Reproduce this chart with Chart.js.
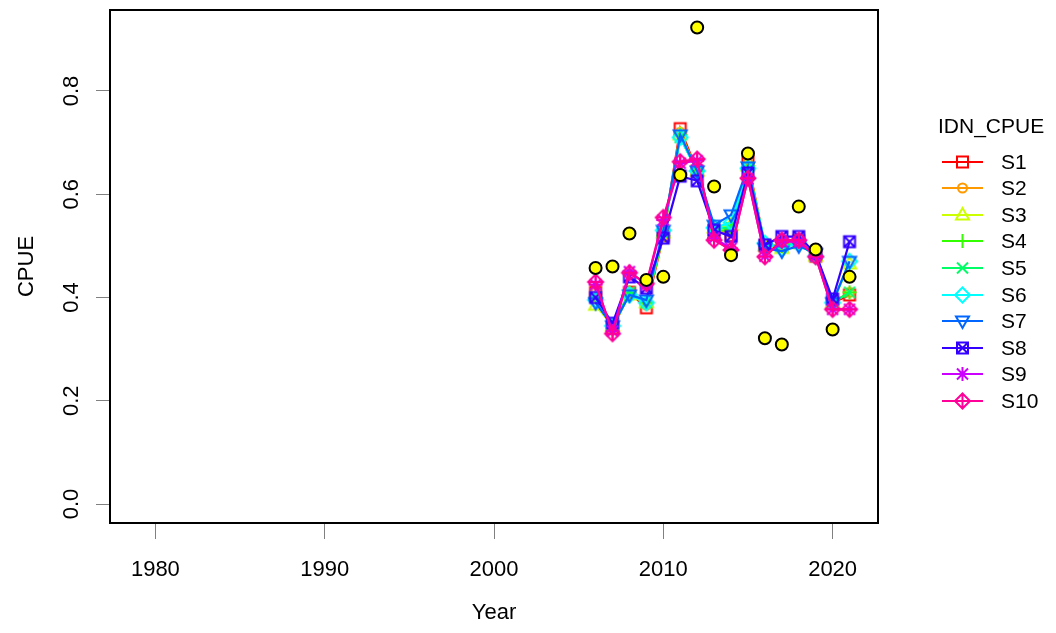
<!DOCTYPE html>
<html>
<head>
<meta charset="utf-8">
<script src="https://cdn.jsdelivr.net/npm/chart.js@4.4.1/dist/chart.umd.min.js"></script>
<style>
  body { margin: 0; background: #fff; font-family: "Liberation Sans", Arial, sans-serif; }
  #wrap { position: relative; width: 1056px; height: 633px; }
  #legend { position: absolute; left: 0; top: 0; width: 1056px; height: 633px; pointer-events: none; color: #000; }
  .lg-title { position: absolute; left: 938px; top: 113px; font-size: 21px; line-height: 26px; }
  .lg-row { position: absolute; left: 941px; height: 26px; display: flex; align-items: center; font-size: 21px; }
  .lg-row canvas { display: block; margin-right: 16px; }
</style>
</head>
<body>
<div id="wrap">
  <canvas id="cpueChart" width="1056" height="633"></canvas>
  <div id="legend"></div>
</div>
<script>
// years with index values
const years = [2006, 2007, 2008, 2009, 2010, 2011, 2012, 2013, 2014, 2015, 2016, 2017, 2018, 2019, 2020, 2021];

// observed CPUE (yellow dots)
const observed = [0.457, 0.460, 0.524, 0.434, 0.440, 0.637, 0.923, 0.615, 0.482, 0.679, 0.321, 0.309, 0.576, 0.493, 0.338, 0.440];

// fitted CPUE per scenario
const s1  = [0.410, 0.340, 0.410, 0.380, 0.520, 0.727, 0.645, 0.530, 0.520, 0.663, 0.500, 0.500, 0.510, 0.480, 0.390, 0.405];
const s2  = [0.410, 0.340, 0.410, 0.385, 0.520, 0.720, 0.645, 0.530, 0.525, 0.660, 0.500, 0.500, 0.510, 0.480, 0.390, 0.410];
const s3  = [0.385, 0.345, 0.405, 0.390, 0.525, 0.715, 0.645, 0.535, 0.540, 0.655, 0.500, 0.495, 0.505, 0.480, 0.390, 0.465];
const s4  = [0.400, 0.340, 0.410, 0.390, 0.520, 0.715, 0.645, 0.530, 0.530, 0.655, 0.500, 0.500, 0.505, 0.480, 0.390, 0.410];
const s5  = [0.400, 0.345, 0.410, 0.390, 0.525, 0.710, 0.645, 0.535, 0.535, 0.650, 0.500, 0.500, 0.505, 0.480, 0.390, 0.410];
const s6  = [0.395, 0.345, 0.405, 0.390, 0.530, 0.710, 0.645, 0.535, 0.545, 0.650, 0.505, 0.495, 0.505, 0.480, 0.390, 0.470];
const s7  = [0.390, 0.345, 0.405, 0.395, 0.530, 0.715, 0.645, 0.540, 0.560, 0.653, 0.495, 0.490, 0.500, 0.485, 0.390, 0.470];
const s8  = [0.400, 0.350, 0.440, 0.418, 0.515, 0.635, 0.626, 0.530, 0.518, 0.641, 0.502, 0.518, 0.518, 0.485, 0.397, 0.508];
const s9  = [0.425, 0.335, 0.450, 0.425, 0.550, 0.660, 0.665, 0.515, 0.495, 0.630, 0.480, 0.508, 0.508, 0.480, 0.377, 0.377];
const s10 = [0.430, 0.330, 0.448, 0.427, 0.555, 0.663, 0.668, 0.511, 0.492, 0.631, 0.479, 0.511, 0.511, 0.479, 0.377, 0.377];

const seriesNames = ['S1', 'S2', 'S3', 'S4', 'S5', 'S6', 'S7', 'S8', 'S9', 'S10'];
const seriesValues = [s1, s2, s3, s4, s5, s6, s7, s8, s9, s10];
const seriesColors = ['#FF0000', '#FF9900', '#CCFF00', '#33FF00', '#00FF66', '#00FFFF', '#0066FF', '#3300FF', '#CC00FF', '#FF0099'];
const seriesShapes = ['square', 'circle', 'triangle', 'plus', 'cross', 'diamond', 'triangleDown', 'squareX', 'asterisk', 'diamondPlus'];

const xTicks = [1980, 1990, 2000, 2010, 2020];
const yTicks = [0.0, 0.2, 0.4, 0.6, 0.8];

const FONT = '"Liberation Sans", Arial, sans-serif';

// R-like plotting symbols
function drawMarker(ctx, shape, cx, cy, color) {
    ctx.save();
    ctx.strokeStyle = color;
    ctx.lineWidth = 2;
    ctx.beginPath();
    const r = 5.5;
    const d = 7.5;
    switch (shape) {
        case 'square':
            ctx.rect(cx - r, cy - r, 2 * r, 2 * r);
            break;
        case 'circle':
            ctx.arc(cx, cy, 4.5, 0, Math.PI * 2);
            break;
        case 'triangle':
            ctx.moveTo(cx, cy - 7); ctx.lineTo(cx + 6.5, cy + 4.5); ctx.lineTo(cx - 6.5, cy + 4.5); ctx.closePath();
            break;
        case 'triangleDown':
            ctx.moveTo(cx, cy + 7); ctx.lineTo(cx + 6.5, cy - 4.5); ctx.lineTo(cx - 6.5, cy - 4.5); ctx.closePath();
            break;
        case 'plus':
            ctx.moveTo(cx - 7, cy); ctx.lineTo(cx + 7, cy);
            ctx.moveTo(cx, cy - 7); ctx.lineTo(cx, cy + 7);
            break;
        case 'cross':
            ctx.moveTo(cx - r, cy - r); ctx.lineTo(cx + r, cy + r);
            ctx.moveTo(cx - r, cy + r); ctx.lineTo(cx + r, cy - r);
            break;
        case 'diamond':
            ctx.moveTo(cx, cy - d); ctx.lineTo(cx + d, cy); ctx.lineTo(cx, cy + d); ctx.lineTo(cx - d, cy); ctx.closePath();
            break;
        case 'squareX':
            ctx.rect(cx - r, cy - r, 2 * r, 2 * r);
            ctx.moveTo(cx - r, cy - r); ctx.lineTo(cx + r, cy + r);
            ctx.moveTo(cx - r, cy + r); ctx.lineTo(cx + r, cy - r);
            break;
        case 'asterisk':
            ctx.moveTo(cx - 7, cy); ctx.lineTo(cx + 7, cy);
            ctx.moveTo(cx, cy - 7); ctx.lineTo(cx, cy + 7);
            ctx.moveTo(cx - r, cy - r); ctx.lineTo(cx + r, cy + r);
            ctx.moveTo(cx - r, cy + r); ctx.lineTo(cx + r, cy - r);
            break;
        case 'diamondPlus':
            ctx.moveTo(cx, cy - d); ctx.lineTo(cx + d, cy); ctx.lineTo(cx, cy + d); ctx.lineTo(cx - d, cy); ctx.closePath();
            ctx.moveTo(cx - d, cy); ctx.lineTo(cx + d, cy);
            ctx.moveTo(cx, cy - d); ctx.lineTo(cx, cy + d);
            break;
    }
    ctx.stroke();
    ctx.restore();
}

function makeMarker(shape, color) {
    const c = document.createElement('canvas');
    c.width = 20; c.height = 20;
    drawMarker(c.getContext('2d'), shape, 10, 10, color);
    return c;
}

function makeLegendIcon(shape, color) {
    const c = document.createElement('canvas');
    c.width = 44; c.height = 22;
    const ctx = c.getContext('2d');
    ctx.strokeStyle = color;
    ctx.lineWidth = 2.2;
    ctx.beginPath();
    ctx.moveTo(1, 11); ctx.lineTo(42, 11);
    ctx.stroke();
    drawMarker(ctx, shape, 21.5, 11, color);
    return c;
}

const datasets = [{
    label: 'observed',
    data: years.map((y, i) => ({ x: y, y: observed[i] })),
    showLine: false,
    pointStyle: 'circle',
    pointRadius: 6,
    pointBorderWidth: 2,
    pointBackgroundColor: '#FFFF00',
    pointBorderColor: '#000000',
    order: 0
}];

seriesValues.forEach((vals, k) => {
    datasets.push({
        label: seriesNames[k],
        data: years.map((y, i) => ({ x: y, y: vals[i] })),
        borderColor: seriesColors[k],
        borderWidth: 2.2,
        tension: 0,
        fill: false,
        pointStyle: makeMarker(seriesShapes[k], seriesColors[k]),
        pointRadius: 6,
        order: 10 - k   // later scenarios drawn on top
    });
});

// box, rotated y labels and axis titles in base-graphics style
const frameAndLabels = {
    id: 'frameAndLabels',
    afterDraw(chart) {
        const { ctx, chartArea, scales } = chart;
        ctx.save();
        ctx.strokeStyle = '#000';
        ctx.lineWidth = 2;
        ctx.strokeRect(chartArea.left, chartArea.top, chartArea.right - chartArea.left, chartArea.bottom - chartArea.top);

        ctx.fillStyle = '#000';
        ctx.font = '22px ' + FONT;
        ctx.textAlign = 'center';
        ctx.textBaseline = 'middle';
        yTicks.forEach(v => {
            const py = scales.y.getPixelForValue(v);
            ctx.save();
            ctx.translate(72, py);
            ctx.rotate(-Math.PI / 2);
            ctx.fillText(v.toFixed(1), 0, 0);
            ctx.restore();
        });

        ctx.fillText('Year', (chartArea.left + chartArea.right) / 2, 613);
        ctx.save();
        ctx.translate(27, (chartArea.top + chartArea.bottom) / 2);
        ctx.rotate(-Math.PI / 2);
        ctx.fillText('CPUE', 0, 0);
        ctx.restore();
        ctx.restore();
    }
};

const ctx = document.getElementById('cpueChart').getContext('2d');
window.cpueChartInstance = new Chart(ctx, {
    type: 'line',
    data: { datasets: datasets },
    options: {
        responsive: false,
        animation: false,
        layout: { padding: { top: 10, right: 178, bottom: 0, left: 0 } },
        scales: {
            x: {
                type: 'linear',
                min: 1977.32,
                max: 2022.68,
                afterBuildTicks: (scale) => { scale.ticks = xTicks.map(v => ({ value: v })); },
                afterFit: (scale) => { scale.height = 110; },
                ticks: {
                    color: '#000',
                    font: { family: FONT, size: 22 },
                    padding: 18,
                    maxRotation: 0,
                    callback: (v) => String(v)
                },
                grid: { drawOnChartArea: false, drawTicks: true, tickLength: 16, color: '#808080' },
                border: { display: false }
            },
            y: {
                min: -0.0368,
                max: 0.9568,
                afterBuildTicks: (scale) => { scale.ticks = yTicks.map(v => ({ value: v })); },
                afterFit: (scale) => { scale.width = 110; },
                ticks: { display: false },
                grid: { drawOnChartArea: false, drawTicks: true, tickLength: 14, color: '#808080' },
                border: { display: false }
            }
        },
        plugins: {
            legend: { display: false },
            tooltip: { enabled: false }
        }
    },
    plugins: [frameAndLabels]
});

// legend block on the right
const legendEl = document.getElementById('legend');
const title = document.createElement('div');
title.className = 'lg-title';
title.textContent = 'IDN_CPUE';
legendEl.appendChild(title);
seriesNames.forEach((name, k) => {
    const row = document.createElement('div');
    row.className = 'lg-row';
    row.style.top = (161.5 + k * 26.6 - 13) + 'px';
    row.appendChild(makeLegendIcon(seriesShapes[k], seriesColors[k]));
    const label = document.createElement('span');
    label.textContent = name;
    row.appendChild(label);
    legendEl.appendChild(row);
});
</script>
</body>
</html>
